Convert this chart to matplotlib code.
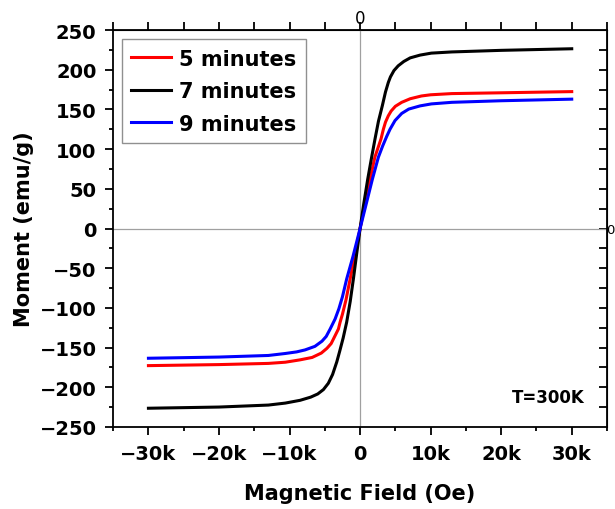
import matplotlib
matplotlib.use("Agg")

import matplotlib.pyplot as plt
from matplotlib.ticker import MultipleLocator, FuncFormatter

# M-H loops at 300 K for the three synthesis times (field in Oe, moment in emu/g)
field_5min = [-30000, -20000, -13000, -10600, -8500, -6800, -5500, -4700, -4100, -3540,
              -3070, -2830, -2500, -2000, -1410, -700, 0, 700, 1410, 2100, 2970, 3300,
              3600, 4000, 4400, 5000, 5900, 7100, 8700, 10000, 13000, 20000, 30000]
moment_5min = [-172.8, -171.5, -170, -168.5, -165.5, -162.5, -157, -151, -145, -135,
               -126.6, -118, -108, -90, -63.6, -32, 0, 31, 62, 90, 113, 125,
               134, 142, 148, 154, 159, 163.5, 167, 168.5, 170, 171, 172.5]

field_7min = [-30000, -20000, -13000, -10600, -8500, -7000, -6000, -5200, -4500, -3900,
              -3300, -2900, -2400, -1900, -1400, -940, -500, 0, 500, 1080, 1600, 2120,
              2600, 3160, 3600, 4000, 4300, 4800, 5400, 6200, 7100, 8500, 10100, 13000,
              20000, 30000]
moment_7min = [-226.5, -225, -222.5, -220, -216.5, -212.5, -208.5, -203, -195, -184,
               -168, -155, -138, -118, -92, -63, -33, 0, 30, 62, 88, 113,
               135, 155, 172, 184, 191, 199, 205, 210.5, 215, 218.5, 221, 222.5,
               224.5, 226.5]

field_9min = [-30000, -20000, -13000, -10600, -9000, -7800, -6400, -5400, -4800, -4240,
              -3540, -3000, -2500, -1900, -1000, 0, 900, 1740, 2600, 3200, 3770, 4240,
              4950, 5900, 6900, 8500, 10100, 13000, 20000, 30000]
moment_9min = [-163.5, -162, -160, -157.5, -155.5, -153, -148.5, -142, -136, -126.6,
               -114, -101, -86, -63.6, -35, 0, 32, 62, 90, 104, 116, 125,
               136, 145, 150.5, 154.5, 157, 159, 161, 163]

series_labels = ['5 minutes', '7 minutes', '9 minutes']

plt.rcParams['font.family'] = 'DejaVu Sans'

fig = plt.figure(figsize=(6.15, 5.1), dpi=100)
ax = fig.add_axes([0.184, 0.161, 0.803, 0.778])

# zero lines through the origin
ax.axhline(0, color='#a0a0a0', lw=0.9, zorder=1)
ax.axvline(0, color='#a0a0a0', lw=0.9, zorder=1)

ax.plot(field_5min, moment_5min, color='#ff0000', lw=2.2, label=series_labels[0], zorder=3)
ax.plot(field_7min, moment_7min, color='black', lw=2.2, label=series_labels[1], zorder=3)
ax.plot(field_9min, moment_9min, color='#0000ff', lw=2.2, label=series_labels[2], zorder=3)

ax.set_xlim(-35000, 35000)
ax.set_ylim(-250, 250)

ax.xaxis.set_major_locator(MultipleLocator(10000))
ax.xaxis.set_minor_locator(MultipleLocator(5000))
ax.yaxis.set_major_locator(MultipleLocator(50))
ax.yaxis.set_minor_locator(MultipleLocator(25))
ax.set_xticks([-30000, -20000, -10000, 0, 10000, 20000, 30000])
ax.set_xticklabels(['\u221230k', '\u221220k', '\u221210k', '0', '10k', '20k', '30k'])

ax.tick_params(which='major', direction='out', length=6, width=1.3, labelsize=14, pad=6)
ax.tick_params(which='minor', direction='out', length=3, width=1.3)
for lab in ax.get_xticklabels() + ax.get_yticklabels():
    lab.set_fontweight('bold')

for sp in ax.spines.values():
    sp.set_linewidth(1.3)

# top and right axes carry only the zero label
zero_only = FuncFormatter(lambda v, pos: '0' if abs(v) < 1e-6 else '')
top = ax.secondary_xaxis('top')
top.set_xticks(range(-35000, 35001, 5000))
top.xaxis.set_major_formatter(zero_only)
top.tick_params(direction='out', length=6, width=1.3, labelsize=12, pad=-4)

right = ax.secondary_yaxis('right')
right.set_yticks(range(-225, 226, 25))
right.yaxis.set_major_formatter(zero_only)
right.tick_params(direction='in', length=6, width=1.3, labelsize=9.5, pad=-0.5)

ax.set_xlabel('Magnetic Field (Oe)', fontsize=15, fontweight='bold', labelpad=15)
ax.set_ylabel('Moment (emu/g)', fontsize=15, fontweight='bold', labelpad=4)

leg = ax.legend(loc='upper left', bbox_to_anchor=(0.018, 0.977), borderaxespad=0,
                prop={'size': 15, 'weight': 'bold'}, handlelength=1.9,
                handletextpad=0.4, labelspacing=0.6, borderpad=0.45,
                fancybox=False, framealpha=1)
leg.get_frame().set_edgecolor('#909090')
leg.get_frame().set_linewidth(1.0)

ax.text(0.881, 0.0756, 'T=300K', transform=ax.transAxes, ha='center', va='center',
        fontsize=12, fontweight='bold')

plt.savefig('out.png', dpi=100)
